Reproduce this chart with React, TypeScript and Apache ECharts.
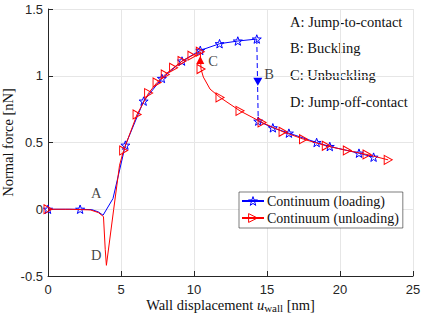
import React, { useEffect, useRef } from "react";
import * as echarts from "echarts";

// Loading branch (blue), upper part before the buckling jump
const loadUpX = [0, 1.2, 2.2, 3.0, 3.45, 3.77, 4.45, 5.3, 6.55, 7.8, 9.18, 10.43, 11.75, 13.0, 14.3];
const loadUpY = [0, 0, 0, -0.003, -0.02, -0.045, 0.08, 0.48, 0.81, 0.98, 1.11, 1.19, 1.24, 1.26, 1.275];
const loadUpMark = [1, 0, 1, 0, 0, 0, 0, 1, 1, 1, 1, 1, 1, 1, 1];
// Loading branch after buckling
const loadDownX = [14.4, 15.4, 16.5, 18.4, 19.3, 21.3, 22.3];
const loadDownY = [0.66, 0.61, 0.57, 0.5, 0.47, 0.42, 0.39];
// Buckling jump (dashed)
const jumpX = [14.3, 14.4];
const jumpY = [1.275, 0.66];

// Unloading branch (red)
const unloadX = [23.3, 21.85, 20.5, 19.06, 17.5, 16.1, 14.66, 13.15, 11.78, 11.1, 10.64, 10.48, 10.43, 9.86, 9.18, 8.6, 8.03, 7.47, 6.89, 6.1, 5.18, 4.9, 4.5, 4.0, 3.92, 3.8, 3.45, 2.9, 1.5, 0];
const unloadY = [0.37, 0.41, 0.44, 0.475, 0.525, 0.58, 0.65, 0.737, 0.838, 0.9, 0.99, 1.05, 1.18, 1.15, 1.11, 1.06, 1.01, 0.95, 0.87, 0.71, 0.44, 0.33, 0.0, -0.42, -0.3, -0.055, -0.025, -0.005, 0, 0];
const unloadMark = [1, 1, 1, 1, 1, 1, 1, 1, 1, 0, 0, 1, 1, 1, 1, 1, 1, 1, 1, 1, 1, 0, 0, 0, 0, 0, 0, 0, 0, 1];

// Annotation letters
const letterText = ["A", "B", "C", "D"];
const letterX = [3.3, 15.15, 11.3, 3.3];
const letterY = [0.12, 1.013, 1.11, -0.345];

// Arrow heads
const arrowDown = [14.37, 0.955];
const arrowUp = [10.43, 1.118];

const descLines = ["A: Jump-to-contact", "B: Buckling", "C: Unbuckling", "D: Jump-off-contact"];

const xTicks = { min: 0, max: 25, interval: 5 };
const yTicks = { min: -0.5, max: 1.5, interval: 0.5 };

const STAR = "path://M0,-10L2.35,-3.24L9.51,-3.09L3.8,1.24L5.88,8.09L0,4L-5.88,8.09L-3.8,1.24L-9.51,-3.09L-2.35,-3.24Z";
const TRI = "path://M0,0L10,5L0,10Z";
const SERIF = "'Liberation Serif', serif";
const SANS = "'Liberation Sans', Arial, sans-serif";
const CLEAR = "rgba(255,255,255,0)";

export default function App() {
  const ref = useRef<HTMLDivElement>(null);
  useEffect(() => {
    if (!ref.current) return;
    const chart = echarts.init(ref.current, undefined, { renderer: "svg" });

    const mk = (xs: number[], ys: number[], marks?: number[]) =>
      xs.map((x, i) =>
        marks && !marks[i] ? { value: [x, ys[i]], symbol: "none" } : { value: [x, ys[i]] }
      );

    const loadData: any[] = [
      ...mk(loadUpX, loadUpY, loadUpMark),
      { value: ["-", "-"], symbol: "none" },
      ...mk(loadDownX, loadDownY),
    ];

    const option: any = {
      animation: false,
      grid: { left: 48, right: 9, top: 9, bottom: 40, containLabel: false, outerBoundsMode: "none" },
      xAxis: {
        type: "value",
        min: xTicks.min,
        max: xTicks.max,
        interval: xTicks.interval,
        name: "Wall displacement {i|u}{s|wall} [nm]",
        nameLocation: "middle",
        nameGap: 20,
        nameMoveOverlap: false,
        nameTextStyle: {
          fontFamily: SERIF,
          fontSize: 14.5,
          color: "#111",
          verticalAlign: "top",
          rich: {
            i: { fontFamily: SERIF, fontStyle: "italic", fontSize: 14.5, color: "#111" },
            s: { fontFamily: SERIF, fontSize: 11, color: "#111", padding: [6, 0, 0, 0] },
          },
        },
        axisLine: { show: true, onZero: false, lineStyle: { color: "#262626", width: 1 } },
        axisTick: { show: true, inside: true, length: 5, lineStyle: { color: "#262626" } },
        axisLabel: { fontFamily: SANS, fontSize: 13, color: "#262626", margin: 7 },
        splitLine: { show: true, lineStyle: { color: "#e6e6e6", width: 1 } },
      },
      yAxis: {
        type: "value",
        min: yTicks.min,
        max: yTicks.max,
        interval: yTicks.interval,
        name: "Normal force [nN]",
        nameLocation: "middle",
        nameGap: 33,
        nameMoveOverlap: false,
        nameTextStyle: { fontFamily: SERIF, fontSize: 14.5, color: "#111" },
        axisLine: { show: true, onZero: false, lineStyle: { color: "#262626", width: 1 } },
        axisTick: { show: true, inside: true, length: 5, lineStyle: { color: "#262626" } },
        axisLabel: { fontFamily: SANS, fontSize: 13, color: "#262626", margin: 5 },
        splitLine: { show: true, lineStyle: { color: "#e6e6e6", width: 1 } },
      },
      legend: {
        data: [
          {
            name: "Continuum (loading)",
            itemStyle: { color: CLEAR, borderColor: "#0000ff", borderWidth: 1 },
          },
          {
            name: "Continuum (unloading)",
            itemStyle: { color: CLEAR, borderColor: "#ff0000", borderWidth: 1 },
          },
        ],
        orient: "vertical",
        left: 239,
        top: 192,
        itemWidth: 22,
        itemHeight: 11,
        itemGap: 3,
        padding: [2, 4, 3, 2],
        borderColor: "#262626",
        borderWidth: 0.6,
        borderRadius: 0,
        backgroundColor: "#fff",
        textStyle: { fontFamily: SERIF, fontSize: 14, color: "#111", lineHeight: 13, padding: [0, 0, 0, -2] },
      },
      graphic: descLines.map((t, i) => ({
        type: "text",
        left: 290,
        top: 14 + i * 26.7,
        style: { text: t, fontFamily: SERIF, fontSize: 14.5, fill: "#111" },
      })),
      series: [
        {
          name: "Continuum (loading)",
          type: "line",
          data: loadData,
          symbol: STAR,
          symbolSize: 9,
          symbolKeepAspect: true,
          connectNulls: false,
          lineStyle: { color: "#0000ff", width: 1 },
          itemStyle: { color: CLEAR, borderColor: "#0000ff", borderWidth: 1 },
          z: 3,
        },
        {
          name: "jump",
          type: "line",
          data: jumpX.map((x, i) => [x, jumpY[i]]),
          symbol: "none",
          lineStyle: { color: "#0000ff", width: 1, type: [5, 3] },
          z: 3,
        },
        {
          name: "Continuum (unloading)",
          type: "line",
          data: mk(unloadX, unloadY, unloadMark),
          symbol: TRI,
          symbolSize: [8, 9],
          lineStyle: { color: "#ff0000", width: 1 },
          itemStyle: { color: CLEAR, borderColor: "#ff0000", borderWidth: 1 },
          z: 4,
        },
        {
          name: "arrowDown",
          type: "scatter",
          data: [arrowDown],
          symbol: "triangle",
          symbolRotate: 180,
          symbolSize: [9, 8],
          itemStyle: { color: "#0000ff", opacity: 1 },
          z: 5,
        },
        {
          name: "arrowUp",
          type: "scatter",
          data: [arrowUp],
          symbol: "triangle",
          symbolSize: [8, 8],
          itemStyle: { color: "#ff0000", opacity: 1 },
          z: 5,
        },
        {
          name: "letters",
          type: "scatter",
          data: letterText.map((t, i) => ({ value: [letterX[i], letterY[i]], name: t })),
          symbolSize: 0,
          label: {
            show: true,
            position: "inside",
            formatter: (p: any) => p.name,
            fontFamily: SERIF,
            fontSize: 14.5,
            color: "#111",
          },
          z: 6,
        },
      ],
    };
    chart.setOption(option);
    return () => chart.dispose();
  }, []);
  return (
    <div
      ref={ref}
      style={{ position: "fixed", left: 0, top: 0, width: 422, height: 316, background: "#fff" }}
    />
  );
}
